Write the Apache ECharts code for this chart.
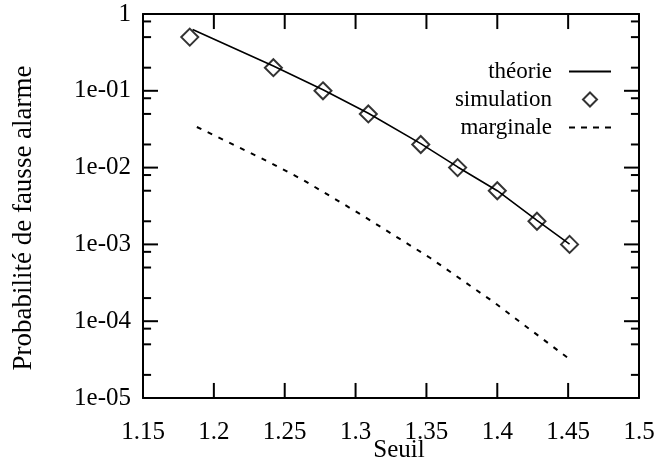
<!DOCTYPE html>
<html>
<head>
<meta charset="utf-8">
<script src="https://cdn.jsdelivr.net/npm/echarts@6/dist/echarts.min.js"></script>
<style>
html, body { margin: 0; padding: 0; background: #fff; }
#main { width: 669px; height: 461px; }
</style>
</head>
<body>
<div id="main"></div>
<script>
// Seuils et probabilités
var seuils = [1.183, 1.242, 1.277, 1.309, 1.346, 1.372, 1.400, 1.428, 1.451];
var simulation = [0.5, 0.2, 0.1, 0.05, 0.02, 0.01, 0.005, 0.002, 0.001];
var seuilsTheorie = [1.185, 1.242, 1.277, 1.309, 1.346, 1.372, 1.400, 1.428, 1.451];
var theorie = [0.63, 0.21, 0.103, 0.051, 0.0205, 0.0102, 0.005, 0.00205, 0.00101];
var seuilsMarginale = [1.188, 1.239, 1.263, 1.303, 1.353, 1.397, 1.451];
var marginale = [0.0338, 0.0118, 0.0069, 0.0025, 0.00066, 0.00018, 0.000032];

// Graduations
var xMin = 1.15, xMax = 1.5;
var yMin = 1e-5, yMax = 1;
var xTicks = [1.2, 1.25, 1.3, 1.35, 1.4, 1.45];
var yMajor = [1e-4, 1e-3, 1e-2, 1e-1];
var yLabels = [1e-5, 1e-4, 1e-3, 1e-2, 1e-1, 1];
var yMinor = [];
for (var d = 0; d < yLabels.length - 1; d++) {
	yMinor.push(yLabels[d] * 2, yLabels[d] * 5, yLabels[d] * 8);
}

var font = 'Liberation Serif';

function labelY(v) {
	if (v >= 1) return '1';
	var e = Math.round(-Math.log10(v));
	return '1e-' + (e < 10 ? '0' + e : e);
}

function pairs(xs, ys) {
	var out = [];
	for (var i = 0; i < xs.length; i++) out.push([xs[i], ys[i]]);
	return out;
}

// Longueur des graduations exprimée dans les unités des axes (15 px ~ 0.0106 en x, facteur 1.57 en y)
var dxMajeur = 0.0106, dxMineur = 0.0057, facteurY = 1.57;

function segment(a, b) {
	return {
		type: 'line',
		data: [a, b],
		symbol: 'none',
		silent: true,
		color: '#000',
		lineStyle: { color: '#000', width: 2 },
		z: 4
	};
}

var graduations = [];
yMajor.forEach(function (v) {
	graduations.push(segment([xMin, v], [xMin + dxMajeur, v]));
	graduations.push(segment([xMax, v], [xMax - dxMajeur, v]));
});
yMinor.forEach(function (v) {
	graduations.push(segment([xMin, v], [xMin + dxMineur, v]));
	graduations.push(segment([xMax, v], [xMax - dxMineur, v]));
});
xTicks.forEach(function (v) {
	graduations.push(segment([v, yMin], [v, yMin * facteurY]));
	graduations.push(segment([v, yMax], [v, yMax / facteurY]));
});

function axeY(position) {
	return {
		type: 'log',
		logBase: 10,
		position: position,
		min: yMin,
		max: yMax,
		splitLine: { show: false },
		axisLine: { show: true, lineStyle: { color: '#000', width: 2 } },
		axisTick: { show: false },
		axisLabel: { show: false }
	};
}

function axeX(position) {
	return {
		type: 'value',
		position: position,
		min: xMin,
		max: xMax,
		interval: 0.05,
		splitLine: { show: false },
		axisLine: { show: true, onZero: false, lineStyle: { color: '#000', width: 2 } },
		axisTick: { show: false },
		axisLabel: { show: false }
	};
}

var myChart = echarts.init(document.getElementById('main'));

var yLeft = axeY('left');
yLeft.axisLabel = { show: true, customValues: yLabels, formatter: labelY, margin: 12, color: '#000', fontFamily: font, fontSize: 25 };
yLeft.name = 'Probabilité de fausse alarme';
yLeft.nameLocation = 'middle';
yLeft.nameGap = 106;
yLeft.nameMoveOverlap = false;
yLeft.nameTextStyle = { color: '#000', fontFamily: font, fontSize: 27, padding: [0, 24, 0, 0] };

var xBottom = axeX('bottom');
xBottom.axisLabel = { show: true, margin: 22, color: '#000', fontFamily: font, fontSize: 25 };
xBottom.name = 'Seuil';
xBottom.nameLocation = 'middle';
xBottom.nameGap = 40;
xBottom.nameMoveOverlap = false;
xBottom.nameTextStyle = { color: '#000', fontFamily: font, fontSize: 25, padding: [0, 0, 0, 16] };

var option = {
	animation: false,
	backgroundColor: '#fff',
	grid: { left: 143, right: 30, top: 14, bottom: 63, outerBoundsMode: 'none' },
	legend: {
		orient: 'vertical',
		align: 'right',
		right: 53,
		top: 55,
		itemWidth: 42,
		itemHeight: 14,
		itemGap: 5,
		data: [
			{ name: 'théorie', icon: 'path://M0,0H42V2H0Z' },
			{ name: 'simulation', icon: 'path://M7,0L14,7L7,14L0,7Z', itemStyle: { color: 'rgba(0,0,0,0)', borderColor: '#000', borderWidth: 2 } },
			{ name: 'marginale', icon: 'path://M0,0H6V2H0Z M12,0H18V2H12Z M24,0H30V2H24Z M36,0H42V2H36Z' }
		],
		textStyle: { color: '#000', fontFamily: font, fontSize: 23, lineHeight: 22, padding: [0, 12, 0, 0] }
	},
	xAxis: [xBottom, axeX('top')],
	yAxis: [yLeft, axeY('right')],
	series: [{
		name: 'théorie',
		type: 'line',
		data: pairs(seuilsTheorie, theorie),
		symbol: 'none',
		color: '#000',
		lineStyle: { color: '#000', width: 1.6 },
		z: 2
	}, {
		name: 'simulation',
		type: 'scatter',
		data: pairs(seuils, simulation),
		symbol: 'diamond',
		symbolSize: 17,
		color: '#000',
		itemStyle: { color: 'rgba(0,0,0,0)', borderColor: '#000', borderWidth: 2 },
		z: 3
	}, {
		name: 'marginale',
		type: 'line',
		data: pairs(seuilsMarginale, marginale),
		symbol: 'none',
		color: '#000',
		lineStyle: { color: '#000', width: 2, type: [5, 7] },
		z: 2
	}].concat(graduations)
};

myChart.setOption(option);
</script>
</body>
</html>
